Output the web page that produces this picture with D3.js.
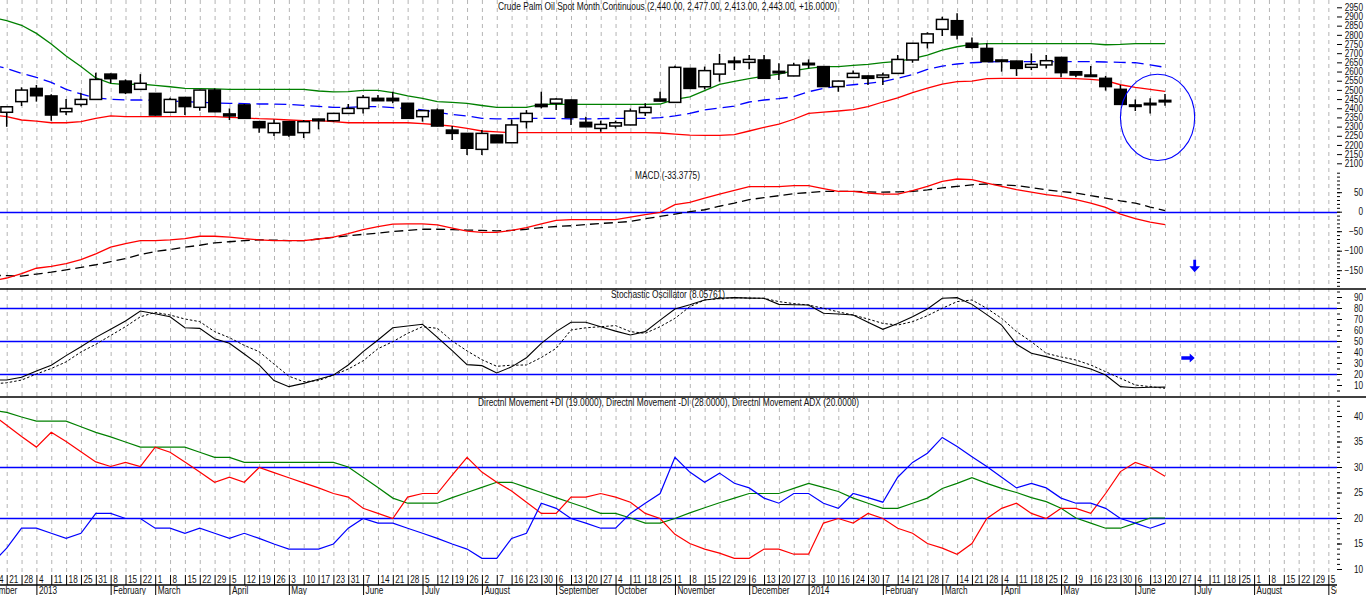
<!DOCTYPE html>
<html>
<head>
<meta charset="utf-8">
<script src="https://d3js.org/d3.v7.min.js"></script>
<style>
  body { margin: 0; background: #fff; overflow: hidden; }
  svg { display: block; }
  text { font-family: "Liberation Sans", Arial, sans-serif; font-size: 10px; fill: #111; }
</style>
</head>
<body>
<svg id="chart"></svg>
<script>
// week labels along the bottom; the first one ("14") sits just off the left edge
const weekLabels = ['14','21','28','4','11','18','25','31','8','15',
  '22','1','8','15','22','29','5','12','19','26',
  '3','10','17','23','31','7','14','21','28','5',
  '12','19','26','2','7','16','23','30','6','13',
  '20','27','4','11','18','25','1','8','15','22',
  '29','6','13','20','27','3','10','16','24','30',
  '7','14','21','28','7','14','21','28','4','11',
  '18','25','2','9','16','23','30','6','13','20',
  '27','4','11','18','25','1','8','15','22','29','5'];
const FIRST_LABEL_WEEK = -1;

const monthNames = ['December','2013','February','March','April','May','June','July','August','September',
  'October','November','December','2014','February','March','April','May','June','July','August','September'];
const monthStartWeek = [-2, 2, 7, 10, 15, 19, 24, 28, 32, 37, 41, 45, 50, 54, 59, 63, 67, 71, 76, 80, 84, 89];

// weekly OHLC, week 0 .. 78
const open = [2378,2436,2508,2467,2381,2421,2448,2586,2548,2503,
  2481,2378,2459,2405,2499,2369,2418,2327,2267,2327,
  2267,2341,2332,2372,2399,2454,2454,2427,2354,2390,
  2281,2263,2176,2254,2212,2327,2421,2427,2445,2323,
  2290,2303,2309,2376,2450,2432,2617,2517,2586,2650,
  2650,2663,2601,2576,2645,2627,2518,2568,2576,2568,
  2590,2663,2757,2830,2877,2754,2726,2663,2657,2623,
  2636,2677,2599,2581,2563,2503,2418,2420,2440];
const high = [2410,2514,2527,2476,2450,2485,2594,2590,2557,2586,
  2483,2457,2461,2501,2508,2399,2423,2329,2339,2329,
  2336,2343,2374,2423,2472,2472,2490,2429,2389,2399,
  2303,2265,2281,2256,2339,2390,2490,2454,2447,2354,
  2332,2332,2399,2427,2490,2632,2619,2627,2696,2681,
  2690,2690,2645,2648,2666,2629,2550,2605,2578,2594,
  2690,2756,2814,2899,2917,2786,2754,2665,2659,2699,
  2690,2679,2601,2630,2576,2527,2448,2454,2477];
const low = [2299,2412,2436,2332,2363,2409,2446,2536,2477,2500,
  2361,2376,2363,2387,2379,2336,2343,2267,2249,2245,
  2238,2285,2327,2370,2372,2439,2427,2343,2327,2301,
  2227,2145,2145,2210,2210,2290,2399,2390,2309,2297,
  2272,2290,2307,2358,2437,2430,2506,2503,2545,2608,
  2612,2561,2554,2574,2617,2516,2490,2566,2527,2527,
  2588,2648,2726,2794,2775,2726,2652,2599,2576,2608,
  2617,2569,2569,2572,2496,2419,2385,2372,2413];
const close = [2408,2499,2468,2363,2399,2448,2557,2561,2485,2536,
  2363,2448,2409,2499,2381,2358,2345,2294,2318,2254,
  2327,2332,2372,2399,2459,2441,2441,2345,2387,2303,
  2263,2182,2263,2212,2309,2372,2409,2450,2350,2299,
  2312,2321,2385,2405,2439,2623,2508,2605,2641,2657,
  2666,2563,2597,2635,2640,2518,2548,2590,2563,2581,
  2666,2754,2805,2884,2799,2732,2654,2657,2617,2639,
  2659,2594,2581,2574,2518,2421,2412,2427,2443];

// indicator series start one week earlier (week -1 .. 78)
const IND_START = -1;
const upperBand = [2895,
  2877,2852,2808,2750,2685,2627,2565,2536,2529,2532,
  2525,2517,2508,2507,2505,2503,2503,2503,2503,2503,
  2503,2494,2489,2490,2497,2497,2485,2467,2454,2436,
  2432,2426,2415,2405,2405,2405,2421,2421,2421,2421,
  2421,2421,2421,2421,2423,2448,2462,2496,2530,2546,
  2561,2575,2586,2605,2617,2627,2627,2634,2639,2648,
  2655,2670,2690,2717,2735,2748,2752,2752,2752,2752,
  2752,2752,2752,2752,2746,2748,2752,2752,2752];
const midBand = [2636,
  2617,2590,2568,2541,2503,2478,2456,2449,2445,2445,
  2443,2440,2436,2432,2429,2427,2425,2423,2423,2421,
  2416,2410,2405,2405,2409,2409,2403,2398,2391,2378,
  2366,2358,2345,2342,2343,2345,2345,2345,2342,2342,
  2343,2345,2345,2345,2349,2358,2372,2391,2401,2412,
  2434,2445,2452,2463,2490,2508,2521,2528,2536,2545,
  2563,2583,2612,2630,2641,2648,2652,2654,2654,2654,
  2654,2654,2654,2654,2652,2650,2648,2636,2623];
const lowerBand = [2363,
  2354,2336,2330,2321,2321,2327,2345,2358,2354,2354,
  2354,2354,2354,2354,2354,2350,2347,2343,2341,2336,
  2332,2332,2327,2321,2321,2321,2321,2321,2316,2310,
  2303,2290,2276,2271,2267,2267,2267,2267,2267,2267,
  2267,2267,2267,2267,2265,2259,2254,2252,2252,2256,
  2276,2296,2314,2340,2372,2379,2385,2392,2409,2434,
  2456,2485,2510,2532,2545,2548,2561,2563,2563,2563,
  2563,2563,2561,2557,2550,2528,2514,2503,2492];

const macd = [-178,
  -170,-159,-145,-140,-133,-123,-108,-91,-82,-74,
  -74,-72,-69,-63,-63,-65,-69,-72,-74,-74,
  -74,-70,-65,-56,-46,-38,-32,-31,-31,-34,
  -42,-50,-53,-53,-48,-41,-31,-22,-20.5,-20.5,
  -20.5,-20.5,-14,-7.7,-1.7,17.9,23.9,35,45.3,54.7,
  64.1,64.1,64.1,66.7,66.7,59,52.1,52.1,47.9,45.3,
  45.3,53.8,65,77.8,83.8,82.1,73.5,65,56.4,50.4,
  43.6,39.3,30.8,22.2,11.1,-6,-17.9,-26.5,-33.38];
const macdSignal = [-163,
  -164,-165,-160,-155,-149,-143,-136,-128,-120,-110,
  -102,-97,-91,-86,-80,-77,-74,-72,-73,-74,
  -74,-70,-66,-62,-58,-55,-51,-48,-45,-45,
  -46,-47,-48,-49,-48,-45,-41,-38,-36,-33,
  -30,-28,-25,-18,-12,-6,0,5,14,22,
  31,36,41,46,49,52,52,52,51,50,
  51,52,56,61,65,69,71,69,67,62,
  56,52,48,41,35,28,22,12,3];

const stochK = [14.5,
  14.5,17,22.7,28,36.7,44.8,53.3,60.6,68.2,77.3,
  74.8,72.1,62,61.5,52,48,38.2,28.2,14,8.5,
  11.5,15.2,19,28.2,40.3,50.9,62,63.6,65.2,53.3,
  41.2,28.5,27.6,21,26.5,34.8,47.9,58.5,67,67,
  63,59,55.5,58.5,69,79.1,83,87.3,88.8,89.4,
  89,88.8,83.3,83,82.7,75.2,74.5,73.6,67,60.6,
  66,72.1,79.1,88.8,89.4,83.3,74,64.5,47,38.8,
  35.8,32,28.2,24.5,19.1,8.5,7.5,8,8.06];
const stochD = [11,
  12,14.5,20,25,31,40,47,55,63,72,
  76,73.6,70,67.6,58.5,53,46,40.3,29,18,
  13,14,19,24.5,32,43,49.4,57,63,61.5,
  50,41,33,27,28,28.2,35,43.3,60,62,
  63,64,58.5,57,63,70.6,81.2,87.3,88.5,89.4,
  89,88.8,85.8,84,82.7,79.7,76.5,73.6,70,66,
  64.5,67.6,73,79.7,85.8,87.3,79.7,70.6,58.5,49.4,
  38.8,35.5,32.7,28.2,22.1,16.1,10,8.5,7];

const plusDI = [11,
  14.1,18,18,17,16,17,20.9,20.9,19.9,19.9,
  18,18,17,18,17,16,17,16,14.9,13.9,
  13.9,13.9,14.9,18,19.9,19,19,18,17,16,
  14.9,13.9,12.1,12.1,16,17,22.9,21.9,19.9,19,
  18,18,20.9,22.9,24.8,31.9,29,27,28.8,26.8,
  25.9,23.9,22.9,24.8,24.8,22.9,21.9,24.8,24,23.1,
  28,30.9,32.7,35.8,34,32,30.1,28,25.9,26.8,
  25.9,23.9,22.9,22.9,21.9,19.9,19,18,19];
const minusDI = [40.3,
  38.2,36,33.9,36.8,35,33,31,30.1,30.9,30.1,
  33.9,32.9,31,29,27,28,27,29.9,28.9,27.9,
  26.9,25.9,24.8,24.1,21.9,20.9,19.9,24.1,24.8,24.8,
  28.4,31.9,29,27,25.3,23.1,20.9,20.9,24.1,24.1,
  24.8,24.1,23.1,20.9,19.9,16.8,15,13.9,13.1,12.1,
  12.1,13.9,13.9,12.9,12.9,19,19.9,19,20.9,19.9,
  18,17,15,14.1,12.9,15,19.9,21.9,22.9,20.9,
  19.9,21.9,21.9,20.9,24.8,29.1,30.9,29.9,28.2];
const adx = [41.2,
  40.7,39.8,39,39,39,37.9,36.8,35.9,34.9,33.9,
  33.9,33.9,33.9,32.9,31.9,31.9,30.9,30.9,30.9,30.9,
  30.9,30.9,30.9,30,28,26,23.9,22.9,22.9,22.9,
  24,25,26,27,27,26,25,24,23,22,
  20.9,20.9,20,19,19,19.9,21,22,23,23.9,
  24.8,24.8,24.8,25.8,26.8,26,25.2,23.9,22.9,21.9,
  21.9,22.9,23.9,25.8,26.8,27.9,26.8,25.8,25,24,
  23.2,21.9,20,19,18,18,19,20,20];

// right-hand tick labels and reference levels
const priceTicks = [2100,2150,2200,2250,2300,2350,2400,2450,2500,2550,2600,2650,2700,2750,2800,2850,2900,2950];
const macdTicks = [-150,-100,-50,0,50];
const stochTicks = [10,20,30,40,50,60,70,80,90];
const dmiTicks = [10,15,20,25,30,35,40];
const macdLevels = [0];
const stochLevels = [20,50,80];
const dmiLevels = [20,30];

// hand-drawn annotations (in data units)
const circleNote = {week: 77.5, halfWeeks: 2.5, priceLow: 2115, priceHigh: 2585};
const downArrowNote = {week: 80, from: -123, to: -155};
const rightArrowNote = {fromWeek: 79.1, toWeek: 80, level: 34.5};

const titles = {
  price: 'Crude Palm Oil Spot Month Continuous (2,440.00, 2,477.00, 2,413.00, 2,443.00, +16.0000)',
  macd: 'MACD (-33.3775)',
  stoch: 'Stochastic Oscillator (8.05761)',
  dmi: 'Directnl Movement +DI (19.0000), Directnl Movement -DI (28.0000), Directnl Movement ADX (20.0000)'
};

class IndicatorChart {

  constructor(_config) {
    this.config = {
      parentElement: _config.parentElement,
      containerWidth: 1366,
      containerHeight: 595,
      plotRight: 1337,
      labelRight: 1363,
      week0X: 6.7,
      weekStep: 14.85,
      gridBottom: 573,
      dateRowTop: 575,
      axisLineY: 585,
      narrow: 0.82,   // the source uses a condensed face; squeeze the regular one
      panels: {
        price: {top: 0, bottom: 165},
        macd: {top: 165, bottom: 289},
        stoch: {top: 289, bottom: 397},
        dmi: {top: 397, bottom: 573}
      }
    };
    this.initVis();
  }

  initVis() {
    let vis = this;
    const c = vis.config;

    vis.svg = d3.select(c.parentElement)
      .attr('width', c.containerWidth)
      .attr('height', c.containerHeight);

    // one week per step
    vis.x = d3.scaleLinear()
      .domain([0, 89])
      .range([c.week0X, c.week0X + 89 * c.weekStep]);

    vis.yPrice = d3.scaleLinear().domain([2100, 2950]).range([163.3, 7.3]);
    vis.yMacd = d3.scaleLinear().domain([-150, 50]).range([270.2, 192.2]);
    vis.yStoch = d3.scaleLinear().domain([20, 80]).range([374, 308]);
    vis.yDmi = d3.scaleLinear().domain([20, 30]).range([518, 467]);

    const defs = vis.svg.append('defs');
    Object.entries(c.panels).forEach(([k, p]) => {
      defs.append('clipPath').attr('id', 'clip-' + k)
        .append('rect').attr('x', 0).attr('y', p.top)
        .attr('width', c.plotRight).attr('height', p.bottom - p.top);
    });
    defs.append('clipPath').attr('id', 'clip-xaxis')
      .append('rect').attr('x', 0).attr('y', c.dateRowTop - 2)
      .attr('width', c.plotRight).attr('height', 40);

    vis.renderVis();
  }

  renderVis() {
    let vis = this;
    const c = vis.config;

    // weekly dashed gridlines
    vis.svg.append('g')
      .selectAll('line')
      .data(d3.range(0, 90))
      .join('line')
      .attr('x1', d => vis.x(d) + 0.5).attr('x2', d => vis.x(d) + 0.5)
      .attr('y1', 0).attr('y2', c.gridBottom)
      .attr('stroke', '#b4b4b4')
      .attr('stroke-dasharray', '4,4');

    // panel separators
    [c.panels.stoch.top, c.panels.dmi.top].forEach(y => {
      vis.svg.append('line')
        .attr('x1', 0).attr('x2', c.containerWidth)
        .attr('y1', y).attr('y2', y)
        .attr('stroke', '#000').attr('stroke-width', 1.5);
    });

    vis.renderPrice();
    vis.renderMacd();
    vis.renderStoch();
    vis.renderDmi();
    vis.renderXAxis();

    // titles
    vis.addTitle(titles.price, 498, 9.5, 339);
    vis.addTitle(titles.macd, 635, 178.5, 65);
    vis.addTitle(titles.stoch, 611, 297.5, 114);
    vis.addTitle(titles.dmi, 478, 405.5, 381);
  }

  addTitle(str, x, y, len) {
    this.svg.append('text')
      .attr('x', x).attr('y', y)
      .attr('textLength', len)
      .attr('lengthAdjust', 'spacingAndGlyphs')
      .text(str);
  }

  condense(sel) {
    const k = this.config.narrow;
    sel.each(function() {
      const w = this.getComputedTextLength();
      if (w > 0) {
        d3.select(this)
          .attr('textLength', w * k)
          .attr('lengthAdjust', 'spacingAndGlyphs');
      }
    });
  }

  seriesLine(g, data, yScale, color, width, dash) {
    const vis = this;
    const line = d3.line()
      .x((d, i) => vis.x(i + IND_START))
      .y(d => yScale(d));
    g.append('path')
      .datum(data)
      .attr('d', line)
      .attr('fill', 'none')
      .attr('stroke', color)
      .attr('stroke-width', width)
      .attr('stroke-dasharray', dash || null);
  }

  levelLines(g, levels, yScale) {
    const vis = this;
    g.selectAll('.level')
      .data(levels)
      .join('line')
      .attr('class', 'level')
      .attr('x1', 0).attr('x2', vis.config.plotRight)
      .attr('y1', d => Math.round(yScale(d)) + 0.5).attr('y2', d => Math.round(yScale(d)) + 0.5)
      .attr('stroke', '#0000ff').attr('stroke-width', 1.3);
  }

  rightAxis(yScale, ticks, minorTicks) {
    const vis = this;
    const c = vis.config;
    const minor = d3.axisRight(yScale).tickValues(minorTicks).tickSize(3).tickFormat('');
    vis.svg.append('g')
      .attr('transform', `translate(${c.plotRight},0)`)
      .call(minor)
      .call(g => g.select('.domain').remove());

    const major = d3.axisRight(yScale).tickValues(ticks).tickSize(5).tickFormat(d3.format('d'));
    vis.svg.append('g')
      .attr('transform', `translate(${c.plotRight},0)`)
      .call(major)
      .call(g => g.select('.domain').remove())
      .call(g => g.selectAll('text')
        .attr('x', c.labelRight - c.plotRight)
        .attr('text-anchor', 'end')
        .call(s => vis.condense(s)));
  }

  renderPrice() {
    let vis = this;
    const g = vis.svg.append('g').attr('clip-path', 'url(#clip-price)');

    vis.seriesLine(g, upperBand, vis.yPrice, '#008000', 1.3);
    vis.seriesLine(g, lowerBand, vis.yPrice, '#ff0000', 1.3);
    vis.seriesLine(g, midBand, vis.yPrice, '#0000ff', 1.3, '12,6');

    const candles = open.map((o, i) => ({i: i, o: o, h: high[i], l: low[i], c: close[i]}));

    g.selectAll('.wick')
      .data(candles)
      .join('line')
      .attr('class', 'wick')
      .attr('x1', d => vis.x(d.i)).attr('x2', d => vis.x(d.i))
      .attr('y1', d => vis.yPrice(d.h)).attr('y2', d => vis.yPrice(d.l))
      .attr('stroke', '#000').attr('stroke-width', 1.5);

    g.selectAll('.body')
      .data(candles)
      .join('rect')
      .attr('class', 'body')
      .attr('x', d => vis.x(d.i) - 5.8)
      .attr('width', 11.6)
      .attr('y', d => vis.yPrice(Math.max(d.o, d.c)))
      .attr('height', d => Math.max(1.5, Math.abs(vis.yPrice(d.o) - vis.yPrice(d.c))))
      .attr('fill', d => d.c < d.o ? '#000' : '#fff')
      .attr('stroke', '#000')
      .attr('stroke-width', 1.5);

    // blue ring drawn around the last few weeks
    g.append('ellipse')
      .attr('cx', vis.x(circleNote.week))
      .attr('cy', vis.yPrice((circleNote.priceLow + circleNote.priceHigh) / 2))
      .attr('rx', vis.x(circleNote.halfWeeks) - vis.x(0))
      .attr('ry', (vis.yPrice(circleNote.priceLow) - vis.yPrice(circleNote.priceHigh)) / 2)
      .attr('fill', 'none')
      .attr('stroke', '#0000ff')
      .attr('stroke-width', 1.1);

    vis.rightAxis(vis.yPrice, priceTicks, []);
  }

  renderMacd() {
    let vis = this;
    const g = vis.svg.append('g').attr('clip-path', 'url(#clip-macd)');
    vis.levelLines(g, macdLevels, vis.yMacd);
    vis.seriesLine(g, macdSignal, vis.yMacd, '#000', 1.3, '9,5');
    vis.seriesLine(g, macd, vis.yMacd, '#ff0000', 1.3);

    // down arrow
    const ax = vis.x(downArrowNote.week);
    const top = vis.yMacd(downArrowNote.from);
    const bot = vis.yMacd(downArrowNote.to);
    const pts = [[ax - 1.4, top], [ax + 1.4, top], [ax + 1.4, bot - 6], [ax + 5.3, bot - 6],
      [ax, bot], [ax - 5.3, bot - 6], [ax - 1.4, bot - 6]];
    g.append('polygon').attr('points', pts.map(p => p.join(',')).join(' ')).attr('fill', '#0000ff');

    vis.rightAxis(vis.yMacd, macdTicks, d3.range(-190, 101, 10));
  }

  renderStoch() {
    let vis = this;
    const g = vis.svg.append('g').attr('clip-path', 'url(#clip-stoch)');
    vis.levelLines(g, stochLevels, vis.yStoch);
    vis.seriesLine(g, stochD, vis.yStoch, '#000', 1, '2.5,2');
    vis.seriesLine(g, stochK, vis.yStoch, '#000', 1.1);

    // right arrow
    const ay = vis.yStoch(rightArrowNote.level);
    const x0 = vis.x(rightArrowNote.fromWeek);
    const x1 = vis.x(rightArrowNote.toWeek);
    const pts = [[x0, ay - 1.7], [x1 - 5, ay - 1.7], [x1 - 5, ay - 4.5], [x1, ay],
      [x1 - 5, ay + 4.5], [x1 - 5, ay + 1.7], [x0, ay + 1.7]];
    g.append('polygon').attr('points', pts.map(p => p.join(',')).join(' ')).attr('fill', '#0000ff');

    vis.rightAxis(vis.yStoch, stochTicks, d3.range(5, 100, 5));
  }

  renderDmi() {
    let vis = this;
    const g = vis.svg.append('g').attr('clip-path', 'url(#clip-dmi)');
    vis.levelLines(g, dmiLevels, vis.yDmi);
    vis.seriesLine(g, adx, vis.yDmi, '#008000', 1.2);
    vis.seriesLine(g, minusDI, vis.yDmi, '#ff0000', 1.2);
    vis.seriesLine(g, plusDI, vis.yDmi, '#0000ff', 1.2);
    vis.rightAxis(vis.yDmi, dmiTicks, d3.range(10, 44, 1));
  }

  renderXAxis() {
    let vis = this;
    const c = vis.config;

    const weeks = weekLabels.map((d, k) => k + FIRST_LABEL_WEEK);
    const dateAxis = d3.axisBottom(vis.x)
      .tickValues(weeks)
      .tickFormat((d) => weekLabels[d - FIRST_LABEL_WEEK])
      .tickSize(c.axisLineY - c.dateRowTop)
      .tickSizeOuter(0);

    vis.svg.append('g')
      .attr('clip-path', 'url(#clip-xaxis)')
      .append('g')
      .attr('transform', `translate(0,${c.dateRowTop})`)
      .call(dateAxis)
      .call(g => g.select('.domain').remove())
      .call(g => g.selectAll('text')
        .attr('x', 2).attr('y', 0.5).attr('dy', '0.72em')
        .attr('text-anchor', 'start')
        .call(s => vis.condense(s)));

    const monthAxis = d3.axisBottom(vis.x)
      .tickValues(monthStartWeek)
      .tickFormat((d, k) => monthNames[k])
      .tickSize(10)
      .tickSizeOuter(0);

    vis.svg.append('g')
      .attr('clip-path', 'url(#clip-xaxis)')
      .append('g')
      .attr('transform', `translate(0,${c.axisLineY})`)
      .call(monthAxis)
      .call(g => g.select('.domain').remove())
      .call(g => g.selectAll('text')
        .attr('x', 2).attr('y', 2).attr('dy', '0.72em')
        .attr('text-anchor', 'start')
        .call(s => vis.condense(s)));

    vis.svg.append('line')
      .attr('x1', 0).attr('x2', c.plotRight)
      .attr('y1', c.axisLineY).attr('y2', c.axisLineY)
      .attr('stroke', '#000').attr('stroke-width', 1.4);
  }
}

const chart = new IndicatorChart({parentElement: '#chart'});
</script>
</body>
</html>
